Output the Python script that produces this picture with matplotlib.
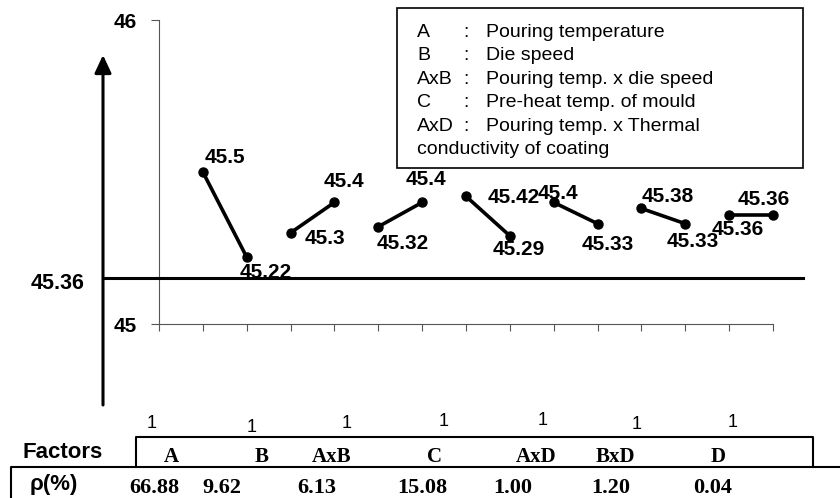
import matplotlib.pyplot as plt
from matplotlib.patches import Rectangle

plt.rcParams['font.family'] = ['Liberation Sans', 'DejaVu Sans']

# data
factors = ['A', 'B', 'AxB', 'C', 'AxD', 'BxD', 'D']
level1 = [45.5, 45.3, 45.32, 45.42, 45.4, 45.38, 45.36]
level2 = [45.22, 45.4, 45.4, 45.29, 45.33, 45.33, 45.36]
dof = ['1', '1', '1', '1', '1', '1', '1']
rho = ['66.88', '9.62', '6.13', '15.08', '1.00', '1.20', '0.04']
grand_mean = '45.36'
legend_keys = ['A', 'B', 'AxB', 'C', 'AxD']
legend_desc = ['Pouring temperature', 'Die speed', 'Pouring temp. x die speed',
               'Pre-heat temp. of mould', 'Pouring temp. x Thermal']
legend_tail = 'conductivity of coating'

# label offsets in pixels (dx, baseline dy downwards), one per point
label_off = [(22, -9), (19, 21), (34, 11), (10, -15), (24, 22), (4, -17), (48, 7),
             (9, 19), (4, -3), (10, 26), (26, -6), (7, 23), (9, 20), (-9, -10)]

W, H = 840, 498
fig = plt.figure(figsize=(W / 100, H / 100), dpi=100)

# main effect plot
ax = fig.add_axes([159 / W, (H - 324) / H, (773 - 159) / W, (324 - 20) / H])
ax.set_xlim(0, 2 * len(factors))
ax.set_ylim(45, 46)
for s in ['top', 'right']:
    ax.spines[s].set_visible(False)
for s in ['left', 'bottom']:
    ax.spines[s].set_color('#555555')
    ax.spines[s].set_linewidth(0.8)
ax.set_xticks(range(0, 2 * len(factors) + 1))
ax.set_xticklabels([])
ax.set_yticks([45, 46])
ax.set_yticklabels(['45', '46'], fontsize=15, fontweight='bold')
ax.tick_params(axis='x', length=5, width=0.8, color='#555555', direction='out')
ax.tick_params(axis='y', length=6, width=0.8, color='#555555', pad=10)
ax.patch.set_visible(False)

values = []
for i in range(len(factors)):
    xs = [2 * i + 1, 2 * i + 2]
    ys = [level1[i], level2[i]]
    ax.plot(xs, ys, color='black', lw=2.6, marker='o', ms=6.5, clip_on=False)
    values += list(zip(xs, ys))

for (x, y), (dx, dy) in zip(values, label_off):
    ax.annotate(f'{y:g}', (x, y), xytext=(dx, -dy), textcoords='offset pixels',
                ha='center', va='baseline', fontsize=15, fontweight='bold')

# overlay in pixel coordinates for the frame, legend and table
ov = fig.add_axes([0, 0, 1, 1], zorder=5)
ov.set_xlim(0, W)
ov.set_ylim(H, 0)
ov.axis('off')
ov.patch.set_visible(False)

ov.annotate('', xy=(103, 55), xytext=(103, 405),
            arrowprops=dict(arrowstyle='-|>,head_length=0.6,head_width=0.28',
                            mutation_scale=18, lw=2.2, color='black',
                            shrinkA=0, shrinkB=0))
ov.text(58, 289, grand_mean, ha='center', va='baseline', fontsize=15.5, fontweight='bold')
ov.plot([103, 803], [278, 278], color='black', lw=2.2)

# legend box
ov.add_patch(Rectangle((397, 8), 406, 160, fill=False, ec='black', lw=1.2))
for k, (key, desc) in enumerate(zip(legend_keys, legend_desc)):
    yb = 37 + 23.4 * k
    ov.text(417, yb, key, ha='left', va='baseline', fontsize=14)
    ov.text(466, yb, ':', ha='center', va='baseline', fontsize=14)
    ov.text(486, yb, desc, ha='left', va='baseline', fontsize=14)
ov.text(417, 37 + 23.4 * 5, legend_tail, ha='left', va='baseline', fontsize=14)

# table under the plot
dof_x = [152, 252, 347, 444, 543, 637, 733]
dof_y = [428, 432, 428, 426, 425, 429, 427]
fac_x = [171, 262, 332, 434, 536, 615, 718]
rho_x = [154, 222, 317, 422, 513, 611, 713]
for i in range(len(factors)):
    ov.text(dof_x[i], dof_y[i], dof[i], ha='center', va='baseline', fontsize=13)
    ov.text(fac_x[i], 462, factors[i], ha='center', va='baseline', fontsize=15,
            fontweight='bold', family='Liberation Serif')
    ov.text(rho_x[i], 493, rho[i], ha='center', va='baseline', fontsize=16,
            fontweight='bold', family='Liberation Serif')

ov.text(63, 458, 'Factors', ha='center', va='baseline', fontsize=16, fontweight='bold')
ov.text(54, 490, 'ρ(%)', ha='center', va='baseline', fontsize=16, fontweight='bold')
ov.plot([136, 136, 813, 813], [467, 437, 437, 467], color='black', lw=1.5)
ov.plot([11, 11, W], [H, 467, 467], color='black', lw=1.5)

fig.savefig('out.png', dpi=100)
